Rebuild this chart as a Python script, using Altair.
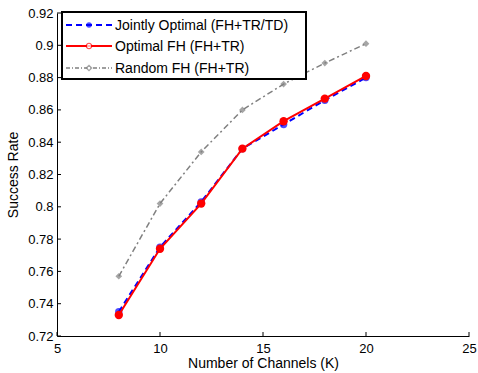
import altair as alt
import pandas as pd

channels = [8, 10, 12, 14, 16, 18, 20]
jointly = [0.735, 0.775, 0.803, 0.836, 0.851, 0.866, 0.880]
optimal = [0.733, 0.774, 0.802, 0.836, 0.853, 0.867, 0.881]
random_fh = [0.757, 0.802, 0.834, 0.860, 0.876, 0.889, 0.901]
series_names = ["Jointly Optimal (FH+TR/TD)", "Optimal FH (FH+TR)", "Random FH (FH+TR)"]
x_ticks = [5, 10, 15, 20, 25]
y_ticks = [0.72, 0.74, 0.76, 0.78, 0.80, 0.82, 0.84, 0.86, 0.88, 0.90, 0.92]

W, H = 412, 323
FONT = "Liberation Sans"

def frame(vals):
    return pd.DataFrame({"K": channels, "rate": vals})

xs = alt.Scale(domain=[5, 25], nice=False)
ys = alt.Scale(domain=[0.72, 0.92], nice=False)

xaxis = alt.Axis(values=x_ticks, title="Number of Channels (K)",
                 grid=False, tickSize=0, labelPadding=6, domainColor="black", domainWidth=1,
                 labelOverlap=False, labelFlush=False,
                 labelFont=FONT, labelFontSize=13, labelColor="black", titleFont=FONT,
                 titleFontSize=14, titleFontWeight="normal", titleColor="black",
                 titleBaseline="alphabetic", titleY=31)
yaxis = alt.Axis(values=y_ticks, title="Success Rate", format=".2~f",
                 grid=False, tickSize=0, labelPadding=4, domainColor="black", domainWidth=1,
                 labelOverlap=False, labelFlush=False,
                 labelFont=FONT, labelFontSize=13, labelColor="black", titleFont=FONT,
                 titleFontSize=14, titleFontWeight="normal", titleColor="black", titlePadding=7)

def X(field):
    return alt.X(field, scale=xs, axis=xaxis)

def Y(field):
    return alt.Y(field, scale=ys, axis=yaxis)

rand_line = alt.Chart(frame(random_fh)).mark_line(color="#808080", strokeWidth=1.5, strokeDash=[6, 3, 2, 3]).encode(x=X("K:Q"), y=Y("rate:Q"))
rand_pts = alt.Chart(frame(random_fh)).mark_point(shape="diamond", color="#808080", filled=True, size=45).encode(x=X("K:Q"), y=Y("rate:Q"))
joint_line = alt.Chart(frame(jointly)).mark_line(color="#0000ff", strokeWidth=2, strokeDash=[6, 4]).encode(x=X("K:Q"), y=Y("rate:Q"))
joint_pts = alt.Chart(frame(jointly)).mark_point(shape="circle", color="#0000ff", filled=True, size=55).encode(x=X("K:Q"), y=Y("rate:Q"))
opt_line = alt.Chart(frame(optimal)).mark_line(color="#ff0000", strokeWidth=2).encode(x=X("K:Q"), y=Y("rate:Q"))
opt_pts = alt.Chart(frame(optimal)).mark_point(shape="circle", color="#ff0000", filled=True, size=70, opacity=1).encode(x=X("K:Q"), y=Y("rate:Q"))

ytick_marks = alt.Chart(pd.DataFrame({"rate": y_ticks})).mark_rule(color="black", strokeWidth=1).encode(
    y=Y("rate:Q"), x=alt.value(0), x2=alt.value(4))
xtick_marks = alt.Chart(pd.DataFrame({"K": x_ticks})).mark_rule(color="black", strokeWidth=1).encode(
    x=X("K:Q"), y=alt.value(H), y2=alt.value(H - 4))

# Legend
legend_box = alt.Chart(pd.DataFrame({"a": [0]})).mark_rect(fill="white", stroke="black", strokeWidth=2).encode(
    x=alt.value(5), x2=alt.value(249), y=alt.value(-1), y2=alt.value(66))
leg_y = [12, 33, 55]
styles = [
    dict(color="#0000ff", dash=[6, 4], width=2, shape="circle", filled=True),
    dict(color="#ff0000", dash=[1, 0], width=2, shape="circle", filled=False),
    dict(color="#808080", dash=[4, 2, 1, 2], width=1.5, shape="diamond", filled=False),
]
legend_layers = [legend_box]
one = pd.DataFrame({"a": [0]})
for name, ly, st in zip(series_names, leg_y, styles):
    legend_layers.append(alt.Chart(one).mark_rule(color=st["color"], strokeWidth=st["width"], strokeDash=st["dash"]).encode(
        x=alt.value(9), x2=alt.value(55), y=alt.value(ly)))
    legend_layers.append(alt.Chart(one).mark_point(shape=st["shape"], color=st["color"], filled=st["filled"], size=30,
                                                   fill="white" if not st["filled"] else st["color"], strokeWidth=1.2).encode(
        x=alt.value(32), y=alt.value(ly)))
    legend_layers.append(alt.Chart(one).mark_text(text=name, align="left", baseline="middle", font=FONT, fontSize=14, color="black").encode(
        x=alt.value(58), y=alt.value(ly + 1)))

chart = alt.layer(rand_line, rand_pts, joint_line, joint_pts, opt_line, opt_pts, ytick_marks, xtick_marks, *legend_layers).properties(
    width=W, height=H, padding={"left": 57, "top": 13, "right": 9, "bottom": 37}, autosize="none",
    background="white"
).configure_view(stroke="transparent", strokeWidth=0).configure_axis(labelOverlap=False)

chart.save("out.html", embed_options={"renderer": "svg", "actions": False})
